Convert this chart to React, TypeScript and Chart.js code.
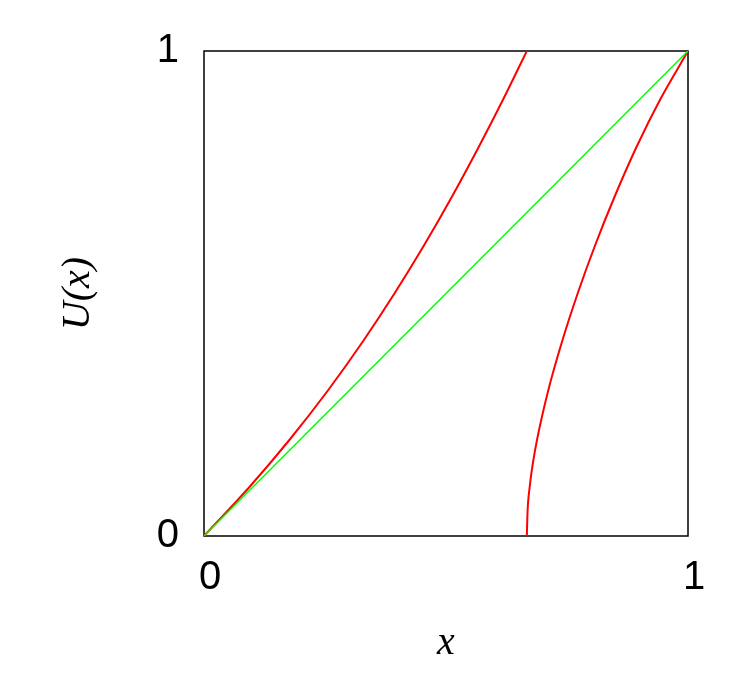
import React, { useEffect, useRef } from "react";
import { Chart, registerables } from "chart.js";

Chart.register(...registerables);

// Curve 1 (left red)
const redAX = [0, 0.093, 0.178, 0.256, 0.3275, 0.3935, 0.455, 0.5125, 0.5665, 0.618, 0.667];
const redAY = [0, 0.1, 0.2, 0.3, 0.4, 0.5, 0.6, 0.7, 0.8, 0.9, 1.0];
// Curve 2 (right red)
const redBX = [0.667, 0.6685, 0.6728, 0.6795, 0.6884, 0.7112, 0.7395, 0.772, 0.8083, 0.8485, 0.8926, 0.9425, 1.0];
const redBY = [0, 0.05, 0.1, 0.15, 0.2, 0.3, 0.4, 0.5, 0.6, 0.7, 0.8, 0.9, 1.0];
// Diagonal (green)
const greenX = [0, 1];
const greenY = [0, 1];

const xTickValues = [0, 1];
const yTickValues = [0, 1];
const xTitle = "x";
const yTitle = "U(x)";

const toPts = (xs: number[], ys: number[]) => xs.map((x, i) => ({ x, y: ys[i] }));

const framePlugin = {
  id: "frame",
  beforeDatasetsDraw(chart: any) {
    const { ctx, chartArea } = chart;
    ctx.save();
    ctx.strokeStyle = "#000";
    ctx.lineWidth = 1.5;
    ctx.strokeRect(chartArea.left, chartArea.top, chartArea.right - chartArea.left, chartArea.bottom - chartArea.top);
    ctx.restore();
  },
};

export default function App() {
  const ref = useRef<HTMLCanvasElement>(null);
  useEffect(() => {
    if (!ref.current) return;
    const chart = new Chart(ref.current, {
      type: "scatter",
      data: {
        datasets: [
          {
            data: toPts(greenX, greenY),
            showLine: true,
            borderColor: "#00ff00",
            borderWidth: 1.5,
            pointRadius: 0,
            fill: false,
          },
          {
            data: toPts(redAX, redAY),
            showLine: true,
            borderColor: "#ff0000",
            borderWidth: 2,
            pointRadius: 0,
            cubicInterpolationMode: "monotone",
            fill: false,
          },
          {
            data: toPts(redBX, redBY),
            showLine: true,
            borderColor: "#ff0000",
            borderWidth: 2,
            pointRadius: 0,
            cubicInterpolationMode: "monotone",
            fill: false,
          },
        ],
      } as any,
      options: {
        animation: false,
        responsive: false,
        devicePixelRatio: 1,
        layout: { padding: { top: 51, right: 59, left: 0, bottom: 0 } },
        plugins: { legend: { display: false }, tooltip: { enabled: false } },
        scales: {
          x: {
            type: "linear",
            min: 0,
            max: 1,
            afterFit: (s: any) => { s.height = 137; },
            afterBuildTicks: (s: any) => { s.ticks = xTickValues.map((v) => ({ value: v })); },
            grid: { display: false, drawTicks: false },
            border: { display: false },
            ticks: {
              color: "#000",
              padding: 18,
              labelOffset: 6,
              maxRotation: 0,
              font: { family: "'Liberation Sans', Arial, sans-serif", size: 40 },
              callback: (v: any) => String(v),
            },
            title: {
              display: true,
              text: xTitle,
              color: "#000",
              font: { family: "'Liberation Serif', 'Times New Roman', serif", size: 40, style: "italic" },
              padding: { top: 0, bottom: 6 },
            },
          },
          y: {
            type: "linear",
            min: 0,
            max: 1,
            afterFit: (s: any) => { s.width = 204; },
            afterBuildTicks: (s: any) => { s.ticks = yTickValues.map((v) => ({ value: v })); },
            grid: { display: false, drawTicks: false },
            border: { display: false },
            ticks: {
              color: "#000",
              padding: 25,
              font: { family: "'Liberation Sans', Arial, sans-serif", size: 40 },
              callback: (v: any) => String(v),
            },
            title: {
              display: true,
              text: yTitle,
              color: "#000",
              font: { family: "'Liberation Serif', 'Times New Roman', serif", size: 40, style: "italic" },
              padding: { top: 54, bottom: 0 },
            },
          },
        },
      } as any,
      plugins: [framePlugin],
    });
    return () => chart.destroy();
  }, []);
  return (
    <canvas
      ref={ref}
      width={747}
      height={673}
      style={{ position: "fixed", left: 0, top: 0, width: 747, height: 673, background: "#fff" }}
    />
  );
}
